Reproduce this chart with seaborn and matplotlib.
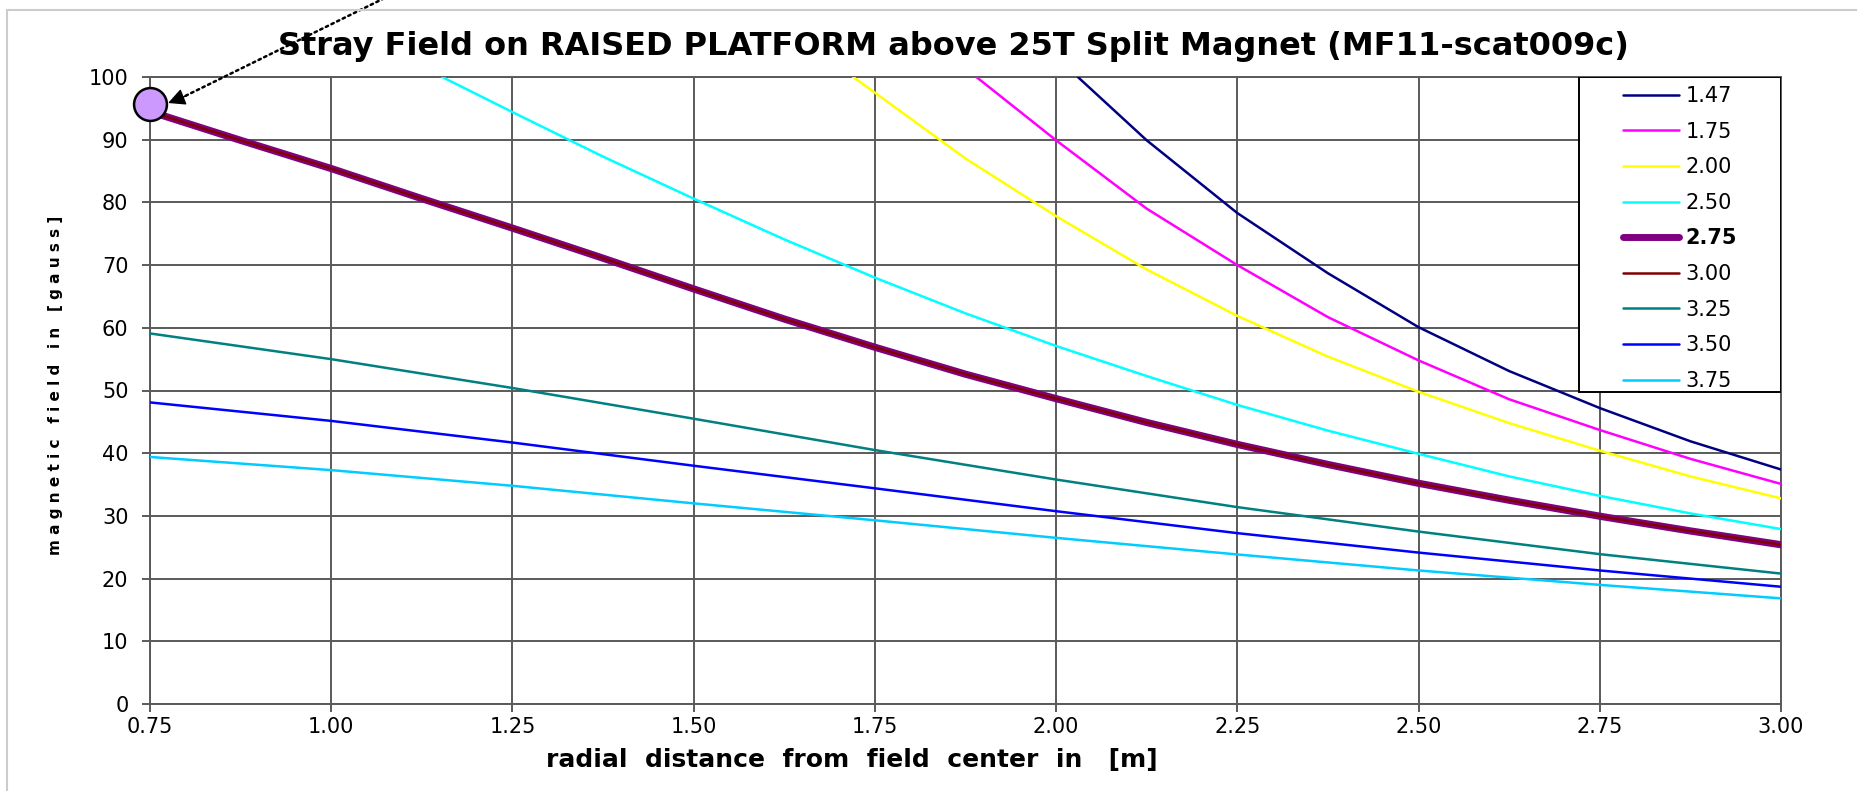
import matplotlib
matplotlib.use("Agg")
import matplotlib.pyplot as plt
import seaborn as sns
import pandas as pd
from matplotlib.patches import Rectangle
from matplotlib.lines import Line2D

# curve data (radial distance [m] -> field [gauss])
r_147 = [2.03, 2.125, 2.25, 2.375, 2.5, 2.625, 2.75, 2.875, 3.0]
b_147 = [100.0, 89.9, 78.3, 68.7, 60.1, 53.1, 47.2, 41.9, 37.4]

r_175 = [1.89, 2.0, 2.125, 2.25, 2.375, 2.5, 2.625, 2.75, 2.875, 3.0]
b_175 = [100.0, 89.9, 79.0, 70.0, 61.7, 54.8, 48.6, 43.7, 39.1, 35.1]

r_200 = [1.72, 1.75, 1.875, 2.0, 2.125, 2.25, 2.375, 2.5, 2.625, 2.75, 2.875, 3.0]
b_200 = [100.0, 97.5, 87.0, 77.8, 69.3, 61.9, 55.4, 49.8, 44.8, 40.4, 36.3, 32.8]

r_250 = [1.153, 1.25, 1.375, 1.5, 1.625, 1.75, 1.875, 2.0, 2.125, 2.25,
         2.375, 2.5, 2.625, 2.75, 2.875, 3.0]
b_250 = [100.0, 94.4, 87.3, 80.6, 74.1, 68.0, 62.3, 57.1, 52.3, 47.7,
         43.6, 39.9, 36.3, 33.2, 30.4, 27.9]

r_275 = [0.75, 0.875, 1.0, 1.125, 1.25, 1.375, 1.5, 1.625, 1.75, 1.875,
         2.0, 2.125, 2.25, 2.375, 2.5, 2.625, 2.75, 2.875, 3.0]
b_275 = [94.5, 89.9, 85.4, 80.6, 75.9, 71.1, 66.2, 61.4, 56.9, 52.6,
         48.7, 44.9, 41.4, 38.2, 35.2, 32.5, 29.95, 27.6, 25.4]

# 3.00 lies on top of the 2.75 curve
r_300 = r_275
b_300 = b_275

r_low = [0.75, 1.0, 1.25, 1.5, 1.75, 2.0, 2.25, 2.5, 2.75, 3.0]
b_325 = [59.1, 55.0, 50.4, 45.5, 40.5, 35.8, 31.4, 27.5, 23.9, 20.8]
b_350 = [48.1, 45.15, 41.7, 38.0, 34.4, 30.75, 27.25, 24.15, 21.3, 18.7]
b_375 = [39.4, 37.3, 34.8, 32.0, 29.3, 26.5, 23.85, 21.3, 19.0, 16.85]

# marked point at the start of the 2.75 curve
mark_r = [0.75]
mark_b = [95.7]

labels = ["1.47", "1.75", "2.00", "2.50", "2.75", "3.00", "3.25", "3.50", "3.75"]
colors = ["#000080", "#FF00FF", "#FFFF00", "#00FFFF", "#800080",
          "#800000", "#008080", "#0000FF", "#00CCFF"]
widths = [1.8, 1.8, 1.8, 1.8, 5.2, 1.8, 1.8, 1.8, 1.8]

series = [(r_147, b_147), (r_175, b_175), (r_200, b_200), (r_250, b_250),
          (r_275, b_275), (r_300, b_300), (r_low, b_325), (r_low, b_350),
          (r_low, b_375)]

sns.set_theme(style="white")
plt.rcParams['font.family'] = ['DejaVu Sans']
plt.rcParams['text.color'] = 'black'

fig = plt.figure(figsize=(18.58, 7.91), dpi=100)
ax = fig.add_axes([150 / 1858, 87 / 791, 1631 / 1858, 627 / 791])

grid_c = "#5a5a5a"
for (r, b), lab, c, w in zip(series, labels, colors, widths):
    df = pd.DataFrame({"r": r, "B": b})
    sns.lineplot(data=df, x="r", y="B", color=c, linewidth=w, ax=ax,
                 label=lab, legend=False, zorder=3)

ax.scatter(mark_r, mark_b, s=560, facecolor="#CC99FF", edgecolor="black",
           linewidth=1.8, zorder=6, clip_on=False)

ax.set_xlim(0.75, 3.0)
ax.set_ylim(0, 100)
ax.set_xticks([0.75 + 0.25 * i for i in range(10)])
ax.set_xticklabels([f"{0.75 + 0.25 * i:.2f}" for i in range(10)])
ax.set_yticks(range(0, 101, 10))
ax.grid(True, color=grid_c, linewidth=1.4)
ax.set_axisbelow(True)
for s in ax.spines.values():
    s.set_color(grid_c)
    s.set_linewidth(1.4)
ax.tick_params(direction="out", length=5.5, width=1.4, color=grid_c,
               labelsize=15, labelcolor="black",
               bottom=True, left=True)
ax.tick_params(axis="y", pad=10)
ax.tick_params(axis="x", pad=4)
ax.set_xlabel("")
ax.set_ylabel("")

# legend box, flush with the top right corner of the plot
box = Rectangle((0.876, 0.4976), 0.124, 0.5024, transform=ax.transAxes,
                facecolor="white", edgecolor="black", linewidth=1.4, zorder=7)
ax.add_patch(box)
handles = [Line2D([], [], color=c, linewidth=(5.0 if lab == "2.75" else 1.8))
           for lab, c in zip(labels, colors)]
leg = ax.legend(handles, labels, loc="center", bbox_to_anchor=(0.938, 0.7425),
                frameon=False, fontsize=15, handlelength=2.7,
                handletextpad=0.3, labelspacing=0.75)
leg.set_zorder(8)
for t in leg.get_texts():
    t.set_color("black")
leg.get_texts()[4].set_fontweight("bold")

# arrow pointing at the marked point
ax.annotate("", xy=(0.792, 96.6), xycoords="data",
            xytext=(401, 801), textcoords="figure pixels",
            arrowprops=dict(arrowstyle="-", linestyle=(0, (1, 1.5)),
                            color="black", lw=1.8, shrinkA=0, shrinkB=0),
            annotation_clip=False)
ax.annotate("", xy=(0.775, 95.85), xycoords="data",
            xytext=(0.80, 97.0), textcoords="data",
            arrowprops=dict(arrowstyle="-|>", color="black", lw=1,
                            mutation_scale=26, shrinkA=0, shrinkB=0),
            annotation_clip=False)

fig.text(0.5134, 0.9406, "Stray Field on RAISED PLATFORM above 25T Split Magnet (MF11-scat009c)",
         ha="center", va="center", fontsize=23, fontweight="bold")
fig.text(0.4586, 0.039, "radial  distance  from  field  center  in   [m]",
         ha="center", va="center", fontsize=18, fontweight="bold")
fig.text(0.0301, 0.513, "m a g n e t i c   f i e l d   i n   [ g a u s s ]",
         rotation=90, ha="center", va="center", fontsize=11,
         fontweight="bold")

# light frame of the chart area
fig.add_artist(Line2D([7 / 1858, 7 / 1858], [0, 1 - 10 / 791],
                      transform=fig.transFigure, color="#cccccc", lw=1.5))
fig.add_artist(Line2D([7 / 1858, 1], [1 - 10 / 791, 1 - 10 / 791],
                      transform=fig.transFigure, color="#cccccc", lw=1.5))

fig.savefig("out.png", dpi=100, facecolor="white")
